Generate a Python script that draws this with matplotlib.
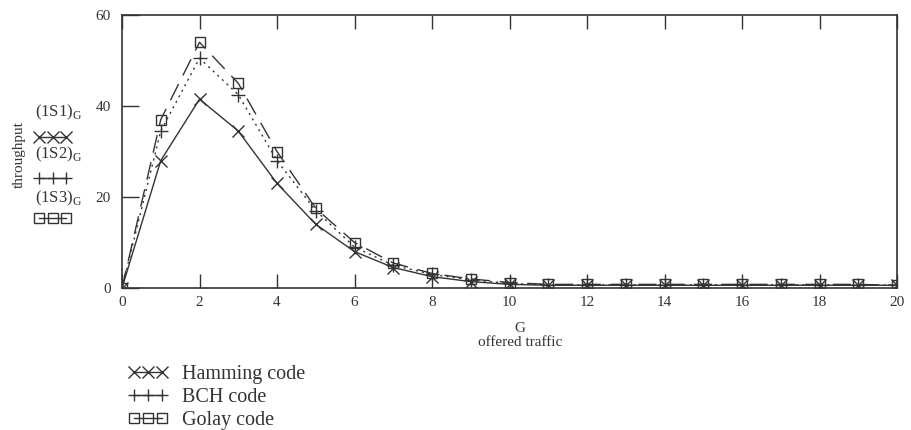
import matplotlib
matplotlib.use("Agg")
import matplotlib.pyplot as plt
from matplotlib.lines import Line2D

G = list(range(0, 21))
hamming = [0, 28, 41.5, 34.5, 23, 14, 8, 4.5, 2.5, 1.4, 0.8, 0.6, 0.6, 0.6, 0.6, 0.6, 0.6, 0.6, 0.6, 0.6, 0.6]
bch     = [0, 34.5, 50.5, 42.5, 28, 17, 9, 5, 3, 1.8, 1.0, 0.7, 0.7, 0.7, 0.7, 0.7, 0.7, 0.7, 0.7, 0.7, 0.6]
golay   = [0, 37, 54, 45, 30, 17.5, 10, 5.5, 3.2, 2.0, 1.2, 0.8, 0.8, 0.8, 0.8, 0.8, 0.8, 0.8, 0.8, 0.8, 0.6]
series_labels = ["Hamming code", "BCH code", "Golay code"]
side_labels = [r"(1S1)$_{\mathrm{G}}$", r"(1S2)$_{\mathrm{G}}$", r"(1S3)$_{\mathrm{G}}$"]
xticks = [0, 2, 4, 6, 8, 10, 12, 14, 16, 18, 20]
yticks = [0, 20, 40, 60]

plt.rcParams['font.family'] = ['Liberation Serif', 'DejaVu Serif']
plt.rcParams['mathtext.fontset'] = 'custom'
plt.rcParams['mathtext.rm'] = 'Liberation Serif'

ink = '#333333'
fig = plt.figure(figsize=(9.12, 4.30), dpi=100)
ax = fig.add_axes([122/912, 1-288/430, 775/912, 273/430])

styles = [
    dict(ls='-', marker='x', ms=9, mew=1.0),
    dict(ls=(0, (1.5, 3)), marker='+', ms=10, mew=1.0),
    dict(ls=(0, (13, 7)), marker='s', ms=7.5, mew=1.0, mfc='none'),
]
handles = []
for ys, st, lab in zip([hamming, bch, golay], styles, series_labels):
    h, = ax.plot(G, ys, color=ink, lw=1.0, label=lab, **st)
    handles.append(h)

ax.set_xlim(0, 20)
ax.set_ylim(0, 60)
ax.set_xticks(xticks)
ax.set_yticks(yticks)
ax.tick_params(axis='x', direction='in', top=True, bottom=True, length=10, width=1.0,
               color=ink, labelcolor=ink, labelsize=11, pad=6)
ax.tick_params(axis='y', direction='in', left=True, right=False, length=12, width=1.0,
               color=ink, labelcolor=ink, labelsize=11, pad=8)
for s in ax.spines.values():
    s.set_color(ink)
    s.set_linewidth(1.2)

fig.text(520/912, 1-328/430, "G", ha='center', va='center', fontsize=11, color=ink)
fig.text(520/912, 1-342/430, "offered traffic", ha='center', va='center', fontsize=11, color=ink)
fig.text(19/912, 1-155/430, "throughput", rotation=90, ha='center', va='center', fontsize=11, color=ink)

# left pseudo-legend
ys_lab = [112, 154, 198]
for y, t in zip(ys_lab, side_labels):
    fig.text(35/912, 1-y/430, t, ha='left', va='center', fontsize=12, color=ink)
icon_handles = [Line2D([], [], color=ink, lw=1.0, marker=st['marker'], ms=st['ms']*0.9,
                       mew=1.0, mfc='none') for st in styles]
leg1 = fig.legend(icon_handles, ['', '', ''], loc='upper left', bbox_to_anchor=(26/912, 1-123/430),
                  numpoints=3, handlelength=2.2, labelspacing=1.45, frameon=False,
                  handletextpad=0.0, borderpad=0, fontsize=12)

leg2 = fig.legend([Line2D([], [], color=ink, lw=1.0, marker=st['marker'], ms=st['ms']*0.9,
                          mew=1.0, mfc='none') for st in styles],
                  series_labels, loc='upper left', bbox_to_anchor=(118/912, 1-355/430),
                  numpoints=3, handlelength=2.0, labelspacing=0.18, frameon=False,
                  handletextpad=0.7, borderpad=0, fontsize=14.5, labelcolor=ink)

fig.savefig("out.png", dpi=100)
